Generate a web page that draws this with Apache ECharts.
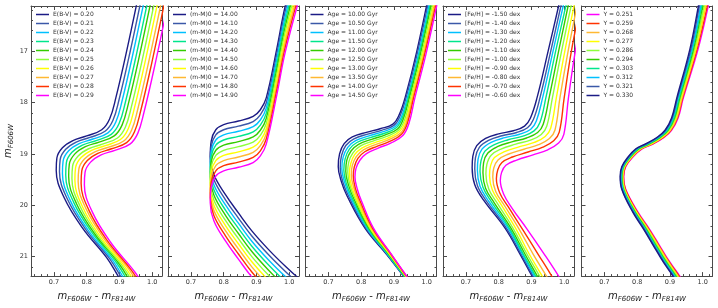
<!DOCTYPE html>
<html><head><meta charset="utf-8">
<script src="https://cdn.jsdelivr.net/npm/echarts@6/dist/echarts.min.js"></script>
<style>html,body{margin:0;padding:0;background:#fff}#c{width:718px;height:308px}</style>
</head><body><div id="c"></div>
<script>
// ---------------- DATA ----------------
const ebvLabels = ['E(B-V) = 0.20','E(B-V) = 0.21','E(B-V) = 0.22','E(B-V) = 0.23','E(B-V) = 0.24','E(B-V) = 0.25','E(B-V) = 0.26','E(B-V) = 0.27','E(B-V) = 0.28','E(B-V) = 0.29'];
const dmLabels = ['(m-M)0 = 14.00','(m-M)0 = 14.10','(m-M)0 = 14.20','(m-M)0 = 14.30','(m-M)0 = 14.40','(m-M)0 = 14.50','(m-M)0 = 14.60','(m-M)0 = 14.70','(m-M)0 = 14.80','(m-M)0 = 14.90'];
const ageLabels = ['Age = 10.00 Gyr','Age = 10.50 Gyr','Age = 11.00 Gyr','Age = 11.50 Gyr','Age = 12.00 Gyr','Age = 12.50 Gyr','Age = 13.00 Gyr','Age = 13.50 Gyr','Age = 14.00 Gyr','Age = 14.50 Gyr'];
const fehLabels = ['[Fe/H] = -1.50 dex','[Fe/H] = -1.40 dex','[Fe/H] = -1.30 dex','[Fe/H] = -1.20 dex','[Fe/H] = -1.10 dex','[Fe/H] = -1.00 dex','[Fe/H] = -0.90 dex','[Fe/H] = -0.80 dex','[Fe/H] = -0.70 dex','[Fe/H] = -0.60 dex'];
const heLabels = ['Y = 0.251','Y = 0.259','Y = 0.268','Y = 0.277','Y = 0.286','Y = 0.294','Y = 0.303','Y = 0.312','Y = 0.321','Y = 0.330'];

const xMajor = [0.7, 0.8, 0.9, 1.0];
const xMinor = [0.64,0.66,0.68,0.72,0.74,0.76,0.78,0.82,0.84,0.86,0.88,0.92,0.94,0.96,0.98,1.02];
const yMajor = [17, 18, 19, 20, 21];
const yMinor = [16.2,16.4,16.6,16.8,17.2,17.4,17.6,17.8,18.2,18.4,18.6,18.8,19.2,19.4,19.6,19.8,20.2,20.4,20.6,20.8,21.2];

// Panel 1: E(B-V) isochrones [color, magnitude]
const ebvCurves = [
 [[0.965,15.70],[0.922,17.00],[0.889,17.91],[0.870,18.32],[0.846,18.53],[0.800,18.65],[0.758,18.74],[0.726,18.88],[0.709,19.08],[0.707,19.32],[0.731,19.85],[0.788,20.45],[0.861,21.02],[0.896,21.38],[0.935,21.80]],
 [[0.975,15.73],[0.932,17.03],[0.899,17.94],[0.880,18.35],[0.856,18.56],[0.810,18.68],[0.768,18.77],[0.736,18.91],[0.719,19.11],[0.717,19.35],[0.741,19.88],[0.798,20.48],[0.871,21.05],[0.906,21.41],[0.945,21.83]],
 [[0.984,15.76],[0.941,17.06],[0.908,17.97],[0.889,18.38],[0.865,18.59],[0.819,18.71],[0.777,18.80],[0.745,18.94],[0.728,19.14],[0.726,19.38],[0.750,19.91],[0.807,20.51],[0.880,21.08],[0.915,21.44],[0.954,21.86]],
 [[0.994,15.79],[0.951,17.09],[0.918,18.00],[0.899,18.41],[0.875,18.62],[0.829,18.74],[0.787,18.83],[0.755,18.97],[0.738,19.17],[0.736,19.41],[0.760,19.94],[0.817,20.54],[0.890,21.11],[0.925,21.47],[0.964,21.89]],
 [[1.003,15.82],[0.960,17.12],[0.927,18.03],[0.908,18.44],[0.884,18.65],[0.838,18.77],[0.796,18.86],[0.764,19.00],[0.747,19.20],[0.745,19.44],[0.769,19.97],[0.826,20.57],[0.899,21.14],[0.934,21.50],[0.973,21.92]],
 [[1.013,15.86],[0.970,17.16],[0.937,18.07],[0.918,18.48],[0.894,18.69],[0.848,18.81],[0.806,18.90],[0.774,19.04],[0.757,19.24],[0.755,19.48],[0.779,20.01],[0.836,20.61],[0.909,21.18],[0.944,21.54],[0.983,21.96]],
 [[1.022,15.89],[0.979,17.19],[0.946,18.10],[0.927,18.51],[0.903,18.72],[0.857,18.84],[0.815,18.93],[0.783,19.07],[0.766,19.27],[0.764,19.51],[0.788,20.04],[0.845,20.64],[0.918,21.21],[0.953,21.57],[0.992,21.99]],
 [[1.032,15.92],[0.989,17.22],[0.956,18.13],[0.937,18.54],[0.913,18.75],[0.867,18.87],[0.825,18.96],[0.793,19.10],[0.776,19.30],[0.774,19.54],[0.798,20.07],[0.855,20.67],[0.928,21.24],[0.963,21.60],[1.002,22.02]],
 [[1.041,15.95],[0.998,17.25],[0.965,18.16],[0.946,18.57],[0.922,18.78],[0.876,18.90],[0.834,18.99],[0.802,19.13],[0.785,19.33],[0.783,19.57],[0.807,20.10],[0.864,20.70],[0.937,21.27],[0.972,21.63],[1.011,22.05]],
 [[1.051,15.98],[1.008,17.28],[0.975,18.19],[0.956,18.60],[0.932,18.81],[0.886,18.93],[0.844,19.02],[0.812,19.16],[0.795,19.36],[0.793,19.60],[0.817,20.13],[0.874,20.73],[0.947,21.30],[0.982,21.66],[1.021,22.08]]
];

// Panel 2: distance modulus — shared colours, one magnitude list per curve
const dmColor = [1.030,0.988,0.962,0.930,0.912,0.890,0.845,0.800,0.776,0.762,0.759,0.770,0.806,0.845,0.886,0.935,0.990,1.025,1.065];
const dmMags = [
 [15.10,16.12,16.96,17.91,18.14,18.27,18.36,18.43,18.53,18.75,19.05,19.40,19.80,20.15,20.50,20.85,21.20,21.40,21.62],
 [15.20,16.22,17.06,18.01,18.24,18.37,18.46,18.53,18.63,18.85,19.15,19.50,19.90,20.25,20.60,20.95,21.30,21.50,21.72],
 [15.30,16.32,17.16,18.11,18.34,18.47,18.56,18.63,18.73,18.95,19.25,19.60,20.00,20.35,20.70,21.05,21.40,21.60,21.82],
 [15.40,16.42,17.26,18.21,18.44,18.57,18.66,18.73,18.83,19.05,19.35,19.70,20.10,20.45,20.80,21.15,21.50,21.70,21.92],
 [15.50,16.52,17.36,18.31,18.54,18.67,18.76,18.83,18.93,19.15,19.45,19.80,20.20,20.55,20.90,21.25,21.60,21.80,22.02],
 [15.60,16.62,17.46,18.41,18.64,18.77,18.86,18.93,19.03,19.25,19.55,19.90,20.30,20.65,21.00,21.35,21.70,21.90,22.12],
 [15.70,16.72,17.56,18.51,18.74,18.87,18.96,19.03,19.13,19.35,19.65,20.00,20.40,20.75,21.10,21.45,21.80,22.00,22.22],
 [15.80,16.82,17.66,18.61,18.84,18.97,19.06,19.13,19.23,19.45,19.75,20.10,20.50,20.85,21.20,21.55,21.90,22.10,22.32],
 [15.90,16.92,17.76,18.71,18.94,19.07,19.16,19.23,19.33,19.55,19.85,20.20,20.60,20.95,21.30,21.65,22.00,22.20,22.42],
 [16.00,17.02,17.86,18.81,19.04,19.17,19.26,19.33,19.43,19.65,19.95,20.30,20.70,21.05,21.40,21.75,22.10,22.30,22.52]
];

// Panel 3: age
const ageCurves = [
 [[1.019,15.50],[0.970,17.00],[0.934,17.91],[0.916,18.24],[0.897,18.42],[0.858,18.51],[0.816,18.58],[0.773,18.67],[0.748,18.80],[0.734,19.00],[0.730,19.25],[0.740,19.55],[0.757,19.82],[0.812,20.45],[0.878,20.96],[0.929,21.38],[0.968,21.70]],
 [[1.023,15.50],[0.973,17.00],[0.937,17.91],[0.919,18.258],[0.900,18.444],[0.862,18.541],[0.820,18.614],[0.778,18.706],[0.753,18.836],[0.740,19.032],[0.736,19.272],[0.745,19.567],[0.762,19.831],[0.815,20.45],[0.880,20.96],[0.930,21.38],[0.969,21.70]],
 [[1.026,15.50],[0.977,17.00],[0.941,17.91],[0.923,18.276],[0.904,18.468],[0.865,18.572],[0.824,18.648],[0.783,18.742],[0.759,18.872],[0.745,19.064],[0.741,19.294],[0.751,19.584],[0.767,19.842],[0.818,20.45],[0.881,20.96],[0.931,21.38],[0.970,21.70]],
 [[1.030,15.50],[0.980,17.00],[0.944,17.91],[0.926,18.294],[0.907,18.492],[0.869,18.603],[0.828,18.682],[0.787,18.778],[0.764,18.908],[0.751,19.096],[0.747,19.316],[0.756,19.601],[0.772,19.853],[0.821,20.45],[0.883,20.96],[0.932,21.38],[0.970,21.70]],
 [[1.033,15.50],[0.983,17.00],[0.947,17.91],[0.929,18.312],[0.911,18.516],[0.872,18.634],[0.832,18.716],[0.792,18.814],[0.769,18.944],[0.756,19.128],[0.753,19.338],[0.762,19.618],[0.777,19.864],[0.824,20.45],[0.885,20.96],[0.933,21.38],[0.971,21.70]],
 [[1.037,15.50],[0.987,17.00],[0.951,17.91],[0.933,18.33],[0.914,18.54],[0.876,18.665],[0.836,18.75],[0.797,18.85],[0.775,18.98],[0.762,19.16],[0.759,19.36],[0.767,19.635],[0.782,19.875],[0.827,20.45],[0.887,20.96],[0.935,21.38],[0.972,21.70]],
 [[1.041,15.50],[0.990,17.00],[0.954,17.91],[0.936,18.348],[0.917,18.564],[0.880,18.696],[0.840,18.784],[0.802,18.886],[0.780,19.016],[0.768,19.192],[0.764,19.382],[0.772,19.652],[0.786,19.886],[0.829,20.45],[0.888,20.96],[0.936,21.38],[0.973,21.70]],
 [[1.044,15.50],[0.993,17.00],[0.957,17.91],[0.939,18.366],[0.921,18.588],[0.883,18.727],[0.844,18.818],[0.807,18.922],[0.785,19.052],[0.773,19.224],[0.770,19.404],[0.778,19.669],[0.791,19.897],[0.832,20.45],[0.890,20.96],[0.937,21.38],[0.974,21.70]],
 [[1.048,15.50],[0.996,17.00],[0.960,17.91],[0.942,18.384],[0.924,18.612],[0.887,18.758],[0.848,18.852],[0.811,18.958],[0.790,19.088],[0.779,19.256],[0.776,19.426],[0.783,19.686],[0.796,19.908],[0.835,20.45],[0.892,20.96],[0.938,21.38],[0.974,21.70]],
 [[1.051,15.50],[1.000,17.00],[0.964,17.91],[0.946,18.402],[0.928,18.636],[0.890,18.789],[0.852,18.886],[0.816,18.994],[0.796,19.124],[0.784,19.288],[0.781,19.448],[0.789,19.703],[0.801,19.919],[0.838,20.45],[0.893,20.96],[0.939,21.38],[0.975,21.70]]
];

// Panel 4: metallicity
const fehCurves = [
 [[1.013,15.30],[0.983,16.12],[0.951,17.00],[0.917,17.91],[0.897,18.30],[0.879,18.46],[0.845,18.55],[0.800,18.61],[0.760,18.70],[0.733,18.84],[0.721,19.05],[0.719,19.27],[0.727,19.60],[0.754,19.90],[0.820,20.45],[0.866,20.96],[0.902,21.38],[0.930,21.70]],
 [[1.020,15.30],[0.990,16.12],[0.959,17.00],[0.926,17.91],[0.906,18.329],[0.888,18.490],[0.855,18.583],[0.810,18.647],[0.769,18.738],[0.741,18.874],[0.729,19.078],[0.727,19.293],[0.735,19.616],[0.762,19.914],[0.824,20.45],[0.869,20.96],[0.905,21.38],[0.933,21.70]],
 [[1.026,15.30],[0.997,16.12],[0.966,17.00],[0.934,17.91],[0.915,18.358],[0.898,18.519],[0.864,18.617],[0.819,18.684],[0.777,18.776],[0.749,18.908],[0.737,19.106],[0.735,19.315],[0.743,19.632],[0.770,19.927],[0.829,20.45],[0.873,20.96],[0.909,21.38],[0.937,21.70]],
 [[1.033,15.30],[1.005,16.12],[0.974,17.00],[0.944,17.91],[0.926,18.390],[0.908,18.552],[0.874,18.654],[0.829,18.725],[0.787,18.818],[0.758,18.946],[0.746,19.137],[0.743,19.340],[0.752,19.650],[0.779,19.942],[0.833,20.45],[0.876,20.96],[0.913,21.38],[0.942,21.70]],
 [[1.040,15.30],[1.012,16.12],[0.983,17.00],[0.954,17.91],[0.936,18.422],[0.919,18.585],[0.885,18.691],[0.840,18.766],[0.796,18.860],[0.767,18.984],[0.754,19.168],[0.752,19.365],[0.760,19.668],[0.787,19.957],[0.838,20.45],[0.881,20.96],[0.918,21.38],[0.946,21.70]],
 [[1.048,15.30],[1.021,16.12],[0.992,17.00],[0.964,17.91],[0.947,18.457],[0.930,18.622],[0.897,18.731],[0.852,18.811],[0.807,18.906],[0.777,19.026],[0.764,19.202],[0.761,19.393],[0.770,19.688],[0.797,19.974],[0.844,20.45],[0.887,20.96],[0.925,21.38],[0.953,21.70]],
 [[1.057,15.30],[1.030,16.12],[1.002,17.00],[0.976,17.91],[0.959,18.495],[0.942,18.661],[0.909,18.776],[0.864,18.860],[0.818,18.956],[0.787,19.072],[0.775,19.239],[0.772,19.423],[0.781,19.710],[0.808,19.992],[0.852,20.45],[0.894,20.96],[0.933,21.38],[0.961,21.70]],
 [[1.066,15.30],[1.039,16.12],[1.012,17.00],[0.987,17.91],[0.972,18.534],[0.955,18.701],[0.922,18.820],[0.877,18.909],[0.829,19.007],[0.798,19.117],[0.785,19.276],[0.782,19.453],[0.791,19.731],[0.818,20.010],[0.861,20.45],[0.906,20.96],[0.946,21.38],[0.974,21.70]],
 [[1.075,15.30],[1.049,16.12],[1.022,17.00],[1.000,17.91],[0.985,18.575],[0.968,18.744],[0.935,18.868],[0.890,18.963],[0.842,19.061],[0.810,19.167],[0.797,19.317],[0.793,19.485],[0.803,19.755],[0.829,20.029],[0.871,20.45],[0.921,20.96],[0.962,21.38],[0.991,21.70]],
 [[1.085,15.30],[1.060,16.12],[1.034,17.00],[1.013,17.91],[0.999,18.62],[0.983,18.79],[0.950,18.92],[0.905,19.02],[0.855,19.12],[0.822,19.22],[0.809,19.36],[0.805,19.52],[0.815,19.78],[0.840,20.05],[0.885,20.45],[0.940,20.96],[0.983,21.38],[1.012,21.70]]
];

// Panel 5: helium — shared magnitudes, one colour list per curve (legend order)
const heMag = [15.50,16.12,16.96,17.91,18.30,18.54,18.68,18.81,18.90,19.06,19.25,19.44,19.69,20.14,20.45,20.77,21.10,21.38,21.65];
const heColors = [
 [1.037,1.017,0.986,0.941,0.925,0.905,0.882,0.848,0.816,0.787,0.765,0.759,0.765,0.803,0.836,0.867,0.899,0.930,0.957],
 [1.033,1.014,0.983,0.939,0.923,0.903,0.880,0.845,0.814,0.785,0.764,0.758,0.764,0.801,0.834,0.865,0.897,0.928,0.955],
 [1.030,1.010,0.980,0.937,0.921,0.901,0.877,0.843,0.812,0.784,0.762,0.757,0.762,0.799,0.832,0.863,0.895,0.925,0.952],
 [1.026,1.007,0.978,0.934,0.918,0.898,0.875,0.840,0.809,0.782,0.761,0.755,0.761,0.798,0.830,0.861,0.892,0.923,0.950],
 [1.023,1.004,0.975,0.932,0.916,0.896,0.872,0.837,0.807,0.780,0.760,0.754,0.760,0.796,0.828,0.859,0.890,0.921,0.947],
 [1.019,1.000,0.972,0.930,0.914,0.894,0.870,0.835,0.805,0.779,0.758,0.753,0.758,0.794,0.826,0.856,0.888,0.918,0.945],
 [1.016,0.997,0.969,0.928,0.912,0.892,0.867,0.832,0.803,0.777,0.757,0.752,0.757,0.792,0.824,0.854,0.886,0.916,0.942],
 [1.012,0.994,0.967,0.925,0.909,0.889,0.865,0.829,0.800,0.775,0.756,0.750,0.756,0.791,0.822,0.852,0.883,0.914,0.940],
 [1.009,0.990,0.964,0.923,0.907,0.887,0.862,0.827,0.798,0.774,0.754,0.749,0.754,0.789,0.820,0.850,0.881,0.911,0.937],
 [1.005,0.987,0.961,0.921,0.905,0.885,0.860,0.824,0.796,0.772,0.753,0.748,0.753,0.787,0.818,0.848,0.879,0.909,0.935]
];

// ---------------- STYLE / LAYOUT ----------------
const FONT = 'DejaVu Sans';
const AXC = '#4a4a4a';
const palette = ['#1b1b85','#3b58a8','#00c0ff','#00e68c','#33cc00','#8cff3c','#ffff00','#ffb833','#ff3300','#ff00ff'];
const XMIN = 0.63, XMAX = 1.03, YMIN = 16.12, YMAX = 21.38;
const lefts = [31, 168, 305.5, 443, 581.5];
const PW = 131, PT = 6, PH = 276;

const dmCurves = dmMags.map(ms => dmColor.map((c, i) => [c, ms[i]]));
const heCurves = heColors.map(cs => cs.map((c, i) => [c, heMag[i]]));

const panels = [
  {curves: ebvCurves, names: ebvLabels, colors: palette},
  {curves: dmCurves, names: dmLabels, colors: palette},
  {curves: ageCurves, names: ageLabels, colors: palette},
  {curves: fehCurves, names: fehLabels, colors: palette},
  {curves: heCurves, names: heLabels, colors: palette.slice().reverse()}
];

const nameRich = {
  m: {fontFamily: FONT, fontStyle: 'italic', fontSize: 10, color: '#222', lineHeight: 14, verticalAlign: 'middle'},
  s: {fontFamily: FONT, fontStyle: 'italic', fontSize: 7, color: '#222', lineHeight: 7, verticalAlign: 'bottom'},
  d: {fontFamily: FONT, fontSize: 10, color: '#222', lineHeight: 14, verticalAlign: 'middle'}
};
const tickLabel = {fontSize: 6.5, color: '#333', fontFamily: FONT};

const grids = [], xAxes = [], yAxes = [], series = [], legends = [];
panels.forEach((p, g) => {
  grids.push({left: lefts[g], top: PT, width: PW, height: PH, containLabel: false});
  const xBase = {gridIndex: g, type: 'value', min: XMIN, max: XMAX, splitLine: {show: false}};
  xAxes.push(Object.assign({}, xBase, {
    position: 'bottom',
    axisLine: {show: true, onZero: false, lineStyle: {color: AXC, width: 1}},
    axisTick: {show: true, inside: true, length: 4, customValues: xMajor, lineStyle: {color: AXC, width: 1}},
    axisLabel: Object.assign({show: true, customValues: xMajor, margin: 3, formatter: v => v.toFixed(1)}, tickLabel),
    name: '{m|m}{s|F606W}{d| - }{m|m}{s|F814W}', nameLocation: 'middle', nameGap: 9,
    nameTextStyle: {rich: nameRich}
  }));
  xAxes.push(Object.assign({}, xBase, {
    position: 'bottom', axisLine: {show: false, onZero: false},
    axisTick: {show: true, inside: true, length: 2, customValues: xMinor, lineStyle: {color: AXC, width: 1}},
    axisLabel: {show: false}
  }));
  xAxes.push(Object.assign({}, xBase, {
    position: 'top', axisLine: {show: true, onZero: false, lineStyle: {color: AXC, width: 1}},
    axisTick: {show: true, inside: true, length: 4, customValues: xMajor, lineStyle: {color: AXC, width: 1}},
    axisLabel: {show: false}
  }));
  xAxes.push(Object.assign({}, xBase, {
    position: 'top', axisLine: {show: false, onZero: false},
    axisTick: {show: true, inside: true, length: 2, customValues: xMinor, lineStyle: {color: AXC, width: 1}},
    axisLabel: {show: false}
  }));
  const yBase = {gridIndex: g, type: 'value', min: YMIN, max: YMAX, inverse: true, splitLine: {show: false}};
  const yMain = Object.assign({}, yBase, {
    position: 'left',
    axisLine: {show: true, onZero: false, lineStyle: {color: AXC, width: 1}},
    axisTick: {show: true, inside: true, length: 4, customValues: yMajor, lineStyle: {color: AXC, width: 1}},
    axisLabel: Object.assign({show: g === 0, customValues: yMajor, margin: 3, formatter: v => String(v)}, tickLabel)
  });
  if (g === 0) {
    yMain.name = '{m|m}{s|F606W}';
    yMain.nameLocation = 'middle';
    yMain.nameRotate = 90;
    yMain.nameGap = 16;
    yMain.nameTextStyle = {rich: nameRich};
  }
  yAxes.push(yMain);
  yAxes.push(Object.assign({}, yBase, {
    position: 'left', axisLine: {show: false, onZero: false},
    axisTick: {show: true, inside: true, length: 2, customValues: yMinor, lineStyle: {color: AXC, width: 1}},
    axisLabel: {show: false}
  }));
  yAxes.push(Object.assign({}, yBase, {
    position: 'right', axisLine: {show: true, onZero: false, lineStyle: {color: AXC, width: 1}},
    axisTick: {show: true, inside: true, length: 4, customValues: yMajor, lineStyle: {color: AXC, width: 1}},
    axisLabel: {show: false}
  }));
  yAxes.push(Object.assign({}, yBase, {
    position: 'right', axisLine: {show: false, onZero: false},
    axisTick: {show: true, inside: true, length: 2, customValues: yMinor, lineStyle: {color: AXC, width: 1}},
    axisLabel: {show: false}
  }));

  p.curves.forEach((curve, k) => {
    series.push({
      type: 'line', name: p.names[k], xAxisIndex: g * 4, yAxisIndex: g * 4,
      data: curve, symbol: 'none', showSymbol: false, smooth: 0.4, clip: true,
      lineStyle: {width: 1.4, color: p.colors[k]}, itemStyle: {color: p.colors[k]},
      emphasis: {disabled: true}, silent: true, animation: false
    });
  });
  legends.push({
    data: p.names.map(n => ({name: n, icon: 'rect'})), orient: 'vertical', left: lefts[g] + 5, top: 10,
    itemWidth: 13, itemHeight: 1.5, itemGap: 0, padding: 0, selectedMode: false,
    textStyle: {fontSize: 6, fontFamily: FONT, color: '#333', lineHeight: 9, padding: [0, 0, 0, -1]}
  });
});

const chart = echarts.init(document.getElementById('c'), null, {renderer: 'canvas'});
chart.setOption({
  backgroundColor: '#fff', animation: false,
  grid: grids, xAxis: xAxes, yAxis: yAxes, series: series, legend: legends
});
</script></body></html>
